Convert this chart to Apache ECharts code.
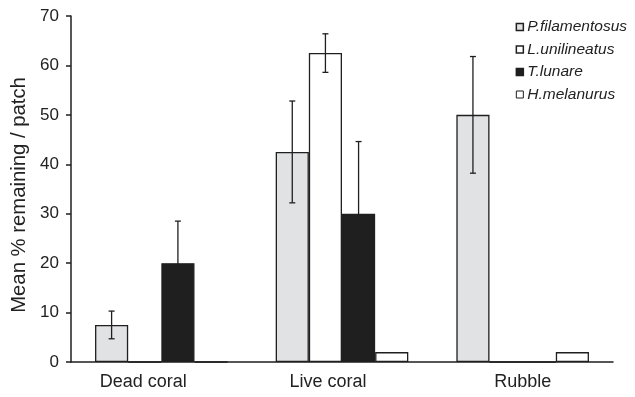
<!DOCTYPE html>
<html><head><meta charset="utf-8">
<script src="https://cdn.jsdelivr.net/npm/echarts@6/dist/echarts.min.js"></script>
<style>html,body{margin:0;padding:0;background:#fff}#c{width:635px;height:397px}</style>
</head><body><div id="c"></div>
<script>
const categories = ['Dead coral', 'Live coral', 'Rubble'];
const seriesNames = ['P.filamentosus', 'L.unilineatus', 'T.lunare', 'H.melanurus'];
const pFilamentosus = [7.5, 42.5, 50];
const pFilamentosusErr = [2.8, 10.3, 11.8];
const lUnilineatus = [0, 62.5, 0];
const lUnilineatusErr = [0, 3.9, 0];
const tLunare = [20, 30, 0];
const tLunareErr = [8.5, 14.6, 0];
const hMelanurus = [0, 2, 2];
const hMelanurusErr = [0, 0, 0];
const yTicks = [0, 10, 20, 30, 40, 50, 60, 70];
const labelShift = [36, 28, 0];

const values = [pFilamentosus, lUnilineatus, tLunare, hMelanurus];
const errors = [pFilamentosusErr, lUnilineatusErr, tLunareErr, hMelanurusErr];
const fills = ['#e1e2e4', '#ffffff', '#1f1f1f', '#ffffff'];
const GAP = 0.266;
const FONT = 'Liberation Sans, Arial, sans-serif';

const chart = echarts.init(document.getElementById('c'), null, {renderer: 'canvas'});

const barSeries = values.map((v, i) => ({
  name: seriesNames[i],
  type: 'bar',
  data: v,
  barGap: '0%',
  barCategoryGap: (GAP * 100) + '%',
  itemStyle: {color: fills[i], borderColor: '#1f1f1f', borderWidth: 1.3},
  emphasis: {disabled: true},
  z: 2
}));

const errData = [];
values.forEach((v, i) => v.forEach((val, j) => {
  if (errors[i][j] > 0) errData.push([j, val, errors[i][j], i]);
}));

const errSeries = {
  type: 'custom',
  data: errData,
  z: 5,
  silent: true,
  renderItem: function (params, api) {
    const cat = api.value(0), val = api.value(1), err = api.value(2), si = api.value(3);
    const band = api.size([1, 0])[0];
    const bw = band * (1 - GAP) / 4;
    const c = api.coord([cat, val]);
    const x = c[0] + (si - 1.5) * bw;
    const yHi = api.coord([cat, val + err])[1];
    const yLo = api.coord([cat, Math.max(0, val - err)])[1];
    const cap = 3;
    const st = {stroke: '#1f1f1f', lineWidth: 1.3};
    return {type: 'group', children: [
      {type: 'line', shape: {x1: x, y1: yHi, x2: x, y2: yLo}, style: st},
      {type: 'line', shape: {x1: x - cap, y1: yHi, x2: x + cap, y2: yHi}, style: st},
      {type: 'line', shape: {x1: x - cap, y1: yLo, x2: x + cap, y2: yLo}, style: st}
    ]};
  }
};

chart.setOption({
  animation: false,
  textStyle: {fontFamily: FONT},
  grid: {left: 71, right: 22, top: 16, bottom: 35},
  legend: {
    orient: 'vertical', right: 3, top: 14,
    itemWidth: 7, itemHeight: 7, itemGap: 6.5,
    icon: 'rect',
    data: seriesNames.map((n, i) => ({name: n, itemStyle: {color: fills[i], borderColor: '#1f1f1f', borderWidth: i === 3 ? 1 : 1.5}})),
    textStyle: {fontSize: 15.5, fontStyle: 'italic', color: '#222', fontFamily: FONT, lineHeight: 15.5, padding: [0, 0, 0, -1]},
    selectedMode: false
  },
  xAxis: {
    type: 'category', data: categories,
    axisLine: {lineStyle: {color: '#1f1f1f', width: 1.5}},
    axisTick: {length: 5, lineStyle: {color: '#1f1f1f', width: 1.5}},
    axisLabel: {
      fontSize: 18, color: '#222', margin: 11,
      formatter: function (v, idx) { return '{s' + idx + '|' + v + '}'; },
      rich: {
        s0: {fontSize: 18, color: '#222', padding: [0, labelShift[0], 0, 0]},
        s1: {fontSize: 18, color: '#222', padding: [0, labelShift[1], 0, 0]},
        s2: {fontSize: 18, color: '#222', padding: [0, labelShift[2], 0, 0]}
      }
    }
  },
  yAxis: {
    type: 'value', min: yTicks[0], max: yTicks[yTicks.length - 1], interval: 10,
    name: 'Mean % remaining / patch', nameLocation: 'middle', nameGap: 40,
    nameTextStyle: {fontSize: 20.3, color: '#222', padding: [0, 12, 0, 0]},
    axisLine: {show: true, lineStyle: {color: '#1f1f1f', width: 1.5}},
    axisTick: {show: true, length: 5, lineStyle: {color: '#1f1f1f', width: 1.5}},
    axisLabel: {fontSize: 17, color: '#222', margin: 12},
    splitLine: {show: false}
  },
  series: barSeries.concat([errSeries])
});
</script></body></html>
